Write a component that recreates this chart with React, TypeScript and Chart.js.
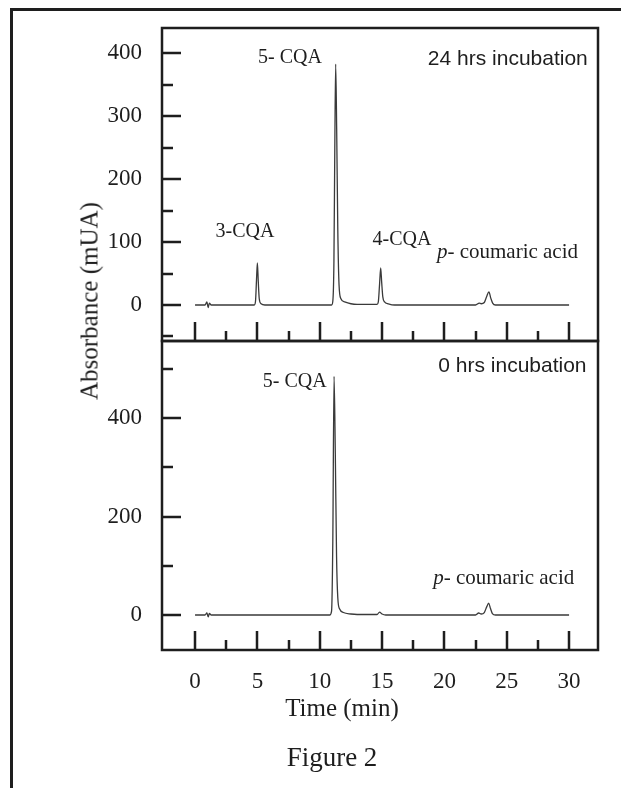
import React, { useEffect, useRef } from 'react';
import { Chart, registerables } from 'chart.js';

Chart.register(...registerables);

// ---- Data ----
const TIME_TICKS = [0, 5, 10, 15, 20, 25, 30];
const TIME_MINOR = [2.5, 7.5, 12.5, 17.5, 22.5, 27.5];

const TOP_Y_TICKS = [0, 100, 200, 300, 400];
const TOP_Y_MINOR = [-50, 50, 150, 250, 350];
const BOT_Y_TICKS = [0, 200, 400];
const BOT_Y_MINOR = [100, 300, 500];

// 24 hrs incubation trace
const TOP_TIME = [0, 0.8, 0.95, 1.05, 1.15, 1.3, 4.75, 4.85, 4.93, 5.0, 5.07, 5.15, 5.3, 5.6,
  10.95, 11.05, 11.14, 11.21, 11.28, 11.36, 11.45, 11.55, 11.7, 12.0, 12.5, 13.0,
  14.6, 14.7, 14.8, 14.89, 14.97, 15.06, 15.2, 15.5, 16.0,
  22.5, 22.8, 22.95, 23.2, 23.4, 23.57, 23.72, 23.87, 24.1, 30];
const TOP_ABS = [0, 0, 5, -4, 3, 0, 0, 6, 40, 67, 38, 10, 2, 0,
  0, 6, 70, 250, 383, 280, 120, 32, 10, 5, 2, 1,
  1, 5, 33, 59, 36, 13, 5, 2, 0,
  0, 3, 2, 4, 14, 21, 11, 3, 0, 0];

// 0 hrs incubation trace
const BOT_TIME = [0, 0.8, 0.95, 1.05, 1.15, 1.3, 10.8, 10.95, 11.05, 11.15, 11.25, 11.35, 11.45,
  11.6, 11.9, 12.5, 13.0, 14.6, 14.8, 15.0, 15.3, 22.5, 22.75, 22.95, 23.2, 23.4, 23.55,
  23.7, 23.85, 24.1, 30];
const BOT_ABS = [0, 0, 4, -4, 3, 0, 0, 8, 150, 485, 330, 120, 35,
  12, 5, 2, 1, 1, 6, 2, 0, 0, 4, 2, 5, 17, 24,
  13, 3, 0, 0];

type Seg = { t: string; italic?: boolean };
type Label = { segs: Seg[]; x: number; y: number; align: 'left' | 'center' | 'right'; sans?: boolean; size: number };

const TOP_LABELS: Label[] = [
  { segs: [{ t: '5- CQA' }], x: 7.62, y: 393, align: 'center', size: 20 },
  { segs: [{ t: '3-CQA' }], x: 4.0, y: 116, align: 'center', size: 20 },
  { segs: [{ t: '4-CQA' }], x: 16.6, y: 103, align: 'center', size: 20 },
  { segs: [{ t: 'p', italic: true }, { t: '- coumaric acid' }], x: 19.4, y: 83, align: 'left', size: 21 },
  { segs: [{ t: '24 hrs incubation' }], x: 31.5, y: 391, align: 'right', sans: true, size: 21 },
];
const BOT_LABELS: Label[] = [
  { segs: [{ t: '5- CQA' }], x: 8.0, y: 474, align: 'center', size: 20 },
  { segs: [{ t: 'p', italic: true }, { t: '- coumaric acid' }], x: 19.1, y: 75, align: 'left', size: 21 },
  { segs: [{ t: '0 hrs incubation' }], x: 31.4, y: 505, align: 'right', sans: true, size: 21 },
];

const SERIF = "'Liberation Serif', 'Times New Roman', serif";
const SANS = "'Liberation Sans', Arial, sans-serif";
const INK = '#1e1e1e';

function makePlugin(yMajor: number[], yMinor: number[], labels: Label[]) {
  return {
    id: 'panelFrame',
    afterDatasetsDraw(chart: any) {
      const { ctx, chartArea: a, scales } = chart;
      const xs = scales.x;
      const ys = scales.y;
      ctx.save();
      ctx.strokeStyle = INK;
      ctx.lineCap = 'butt';
      ctx.lineWidth = 2.5;
      ctx.beginPath();
      TIME_TICKS.forEach((v) => {
        const px = Math.round(xs.getPixelForValue(v));
        ctx.moveTo(px, a.bottom);
        ctx.lineTo(px, a.bottom - 19);
      });
      TIME_MINOR.forEach((v) => {
        const px = Math.round(xs.getPixelForValue(v));
        ctx.moveTo(px, a.bottom);
        ctx.lineTo(px, a.bottom - 10);
      });
      yMajor.forEach((v) => {
        const py = Math.round(ys.getPixelForValue(v));
        ctx.moveTo(a.left, py);
        ctx.lineTo(a.left + 19, py);
      });
      yMinor.forEach((v) => {
        const py = Math.round(ys.getPixelForValue(v));
        ctx.moveTo(a.left, py);
        ctx.lineTo(a.left + 11, py);
      });
      ctx.stroke();
      ctx.lineWidth = 2.5;
      ctx.strokeRect(a.left, a.top, a.right - a.left, a.bottom - a.top);

      ctx.fillStyle = INK;
      ctx.textBaseline = 'middle';
      labels.forEach((lb) => {
        const fontFor = (s: Seg) => `${s.italic ? 'italic ' : ''}${lb.size}px ${lb.sans ? SANS : SERIF}`;
        let total = 0;
        lb.segs.forEach((s) => {
          ctx.font = fontFor(s);
          total += ctx.measureText(s.t).width;
        });
        const px = xs.getPixelForValue(lb.x);
        const py = ys.getPixelForValue(lb.y);
        let x = lb.align === 'left' ? px : lb.align === 'center' ? px - total / 2 : px - total;
        ctx.textAlign = 'left';
        lb.segs.forEach((s) => {
          ctx.font = fontFor(s);
          ctx.fillText(s.t, x, py);
          x += ctx.measureText(s.t).width;
        });
      });
      ctx.restore();
    },
  };
}

function noPad(s: any) {
  s.paddingTop = 0;
  s.paddingBottom = 0;
  s.paddingLeft = 0;
  s.paddingRight = 0;
}

function yScale(min: number, max: number, ticks: number[]) {
  return {
    type: 'linear' as const,
    min,
    max,
    afterFit: (s: any) => { s.width = 162; noPad(s); },
    afterBuildTicks: (s: any) => { s.ticks = ticks.map((v) => ({ value: v })); },
    grid: { display: false, drawTicks: false },
    border: { display: false },
    ticks: { padding: 20, color: INK, font: { family: SERIF, size: 23 } },
  };
}

function lineDataset(times: number[], values: number[]) {
  return {
    data: times.map((t, i) => ({ x: t, y: values[i] })),
    borderColor: '#3a3a3a',
    borderWidth: 1.3,
    pointRadius: 0,
    fill: false,
    tension: 0.2,
    cubicInterpolationMode: 'monotone' as const,
  };
}

const X_MIN = -2.65;
const X_MAX = 32.32;

export default function App() {
  const topRef = useRef<HTMLCanvasElement>(null);
  const botRef = useRef<HTMLCanvasElement>(null);

  useEffect(() => {
    const top = new Chart(topRef.current!, {
      type: 'line',
      data: { datasets: [lineDataset(TOP_TIME, TOP_ABS)] },
      options: {
        animation: false,
        responsive: false,
        maintainAspectRatio: false,
        layout: { padding: { top: 28, right: 23, bottom: 4, left: 0 } },
        plugins: { legend: { display: false }, tooltip: { enabled: false } },
        scales: {
          x: { type: 'linear', min: X_MIN, max: X_MAX, display: false },
          y: yScale(-57.2, 440.4, TOP_Y_TICKS),
        },
      },
      plugins: [makePlugin(TOP_Y_TICKS, TOP_Y_MINOR, TOP_LABELS)],
    });
    const bot = new Chart(botRef.current!, {
      type: 'line',
      data: { datasets: [lineDataset(BOT_TIME, BOT_ABS)] },
      options: {
        animation: false,
        responsive: false,
        maintainAspectRatio: false,
        layout: { padding: { top: 11, right: 23, bottom: 0, left: 0 } },
        plugins: { legend: { display: false }, tooltip: { enabled: false } },
        scales: {
          x: {
            type: 'linear',
            min: X_MIN,
            max: X_MAX,
            afterFit: (s: any) => { s.height = 138; noPad(s); },
            afterBuildTicks: (s: any) => { s.ticks = TIME_TICKS.map((v) => ({ value: v })); },
            grid: { display: false, drawTicks: false },
            border: { display: false },
            ticks: { padding: 18, autoSkip: false, maxRotation: 0, color: INK, font: { family: SERIF, size: 23 } },
          },
          y: yScale(-71.2, 557, BOT_Y_TICKS),
        },
      },
      plugins: [makePlugin(BOT_Y_TICKS, BOT_Y_MINOR, BOT_LABELS)],
    });
    return () => {
      top.destroy();
      bot.destroy();
    };
  }, []);

  const text: React.CSSProperties = {
    position: 'absolute',
    fontFamily: SERIF,
    color: INK,
    whiteSpace: 'nowrap',
    lineHeight: 1,
  };

  return (
    <div style={{ position: 'fixed', left: 0, top: 0, width: 621, height: 788, background: '#fff', overflow: 'hidden' }}>
      <div style={{ position: 'absolute', left: 10, top: 8, width: 640, height: 800, borderLeft: `3px solid ${INK}`, borderTop: `3px solid ${INK}` }} />
      <canvas ref={topRef} width={621} height={345} style={{ position: 'absolute', left: 0, top: 0, width: 621, height: 345 }} />
      <canvas ref={botRef} width={621} height={458} style={{ position: 'absolute', left: 0, top: 330, width: 621, height: 458 }} />
      <div style={{ ...text, left: 89, top: 301, fontSize: 25, transform: 'translate(-50%, -50%) rotate(-90deg)' }}>Absorbance (mUA)</div>
      <div style={{ ...text, left: 342, top: 707, fontSize: 25, transform: 'translate(-50%, -50%)' }}>Time (min)</div>
      <div style={{ ...text, left: 332, top: 757, fontSize: 27, transform: 'translate(-50%, -50%)' }}>Figure 2</div>
    </div>
  );
}
